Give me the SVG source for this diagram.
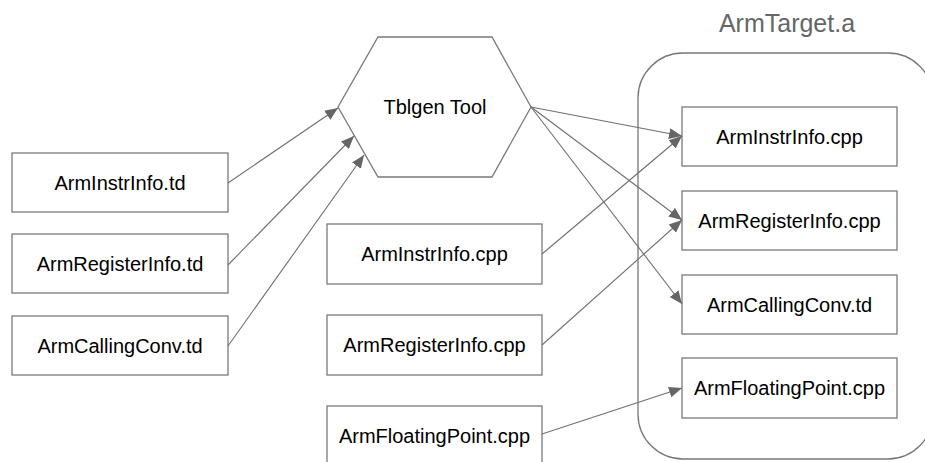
<svg xmlns="http://www.w3.org/2000/svg" width="925" height="462" viewBox="0 0 925 462">
<style>
.box{fill:#fff;stroke:#7a7a7a;stroke-width:1.3}
.lbl{font-family:"Liberation Sans",Arial,sans-serif;font-size:20px;fill:#000;text-anchor:middle}
.ttl{font-family:"Liberation Sans",Arial,sans-serif;font-size:25px;fill:#666;text-anchor:middle}
.con{fill:none;stroke:#707070;stroke-width:1.1}
</style>
<defs>
<marker id="arr" viewBox="0 0 10 10" refX="10" refY="5" markerWidth="13" markerHeight="13" markerUnits="userSpaceOnUse" orient="auto">
<path d="M0,0.8 L10,5 L0,9.2 Z" fill="#666"/>
</marker>
</defs>
<g id="armtarget">
<rect x="638" y="53" width="295" height="406" rx="45" ry="45" fill="#fff" stroke="#777" stroke-width="1.3"/>
<text class="ttl" x="787" y="32">ArmTarget.a</text>
</g>
<g id="tblgen">
<polygon class="box" points="378,37 492,37 531,107 492,177 378,177 338,107"/>
<text class="lbl" x="435" y="114">Tblgen Tool</text>
</g>
<g id="src-instr-td"><rect class="box" x="12" y="153" width="216" height="59"/><text class="lbl" x="120" y="190">ArmInstrInfo.td</text></g>
<g id="src-reg-td"><rect class="box" x="12" y="234" width="216" height="59"/><text class="lbl" x="120" y="271">ArmRegisterInfo.td</text></g>
<g id="src-call-td"><rect class="box" x="12" y="316" width="216" height="59"/><text class="lbl" x="120" y="353">ArmCallingConv.td</text></g>
<g id="mid-instr-cpp"><rect class="box" x="327" y="224" width="215" height="60"/><text class="lbl" x="434.5" y="261">ArmInstrInfo.cpp</text></g>
<g id="mid-reg-cpp"><rect class="box" x="327" y="315" width="215" height="60"/><text class="lbl" x="434.5" y="352">ArmRegisterInfo.cpp</text></g>
<g id="mid-fp-cpp"><rect class="box" x="327" y="406" width="215" height="60"/><text class="lbl" x="434.5" y="443">ArmFloatingPoint.cpp</text></g>
<g id="out-instr-cpp"><rect class="box" x="682" y="107" width="215" height="59"/><text class="lbl" x="789.5" y="144">ArmInstrInfo.cpp</text></g>
<g id="out-reg-cpp"><rect class="box" x="682" y="191" width="215" height="59"/><text class="lbl" x="789.5" y="228">ArmRegisterInfo.cpp</text></g>
<g id="out-call-td"><rect class="box" x="682" y="275" width="215" height="59"/><text class="lbl" x="789.5" y="312">ArmCallingConv.td</text></g>
<g id="out-fp-cpp"><rect class="box" x="682" y="358" width="215" height="60"/><text class="lbl" x="789.5" y="395">ArmFloatingPoint.cpp</text></g>
<g id="connectors">
<line class="con" x1="228" y1="183" x2="338" y2="108" marker-end="url(#arr)"/>
<line class="con" x1="228" y1="265" x2="354" y2="136" marker-end="url(#arr)"/>
<line class="con" x1="228" y1="346" x2="364" y2="155" marker-end="url(#arr)"/>
<line class="con" x1="531" y1="107" x2="682" y2="136" marker-end="url(#arr)"/>
<line class="con" x1="531" y1="107" x2="682" y2="220" marker-end="url(#arr)"/>
<line class="con" x1="531" y1="107" x2="682" y2="304" marker-end="url(#arr)"/>
<line class="con" x1="542" y1="254" x2="682" y2="136" marker-end="url(#arr)"/>
<line class="con" x1="542" y1="345" x2="682" y2="220" marker-end="url(#arr)"/>
<line class="con" x1="542" y1="434" x2="682" y2="388" marker-end="url(#arr)"/>
</g>
</svg>
